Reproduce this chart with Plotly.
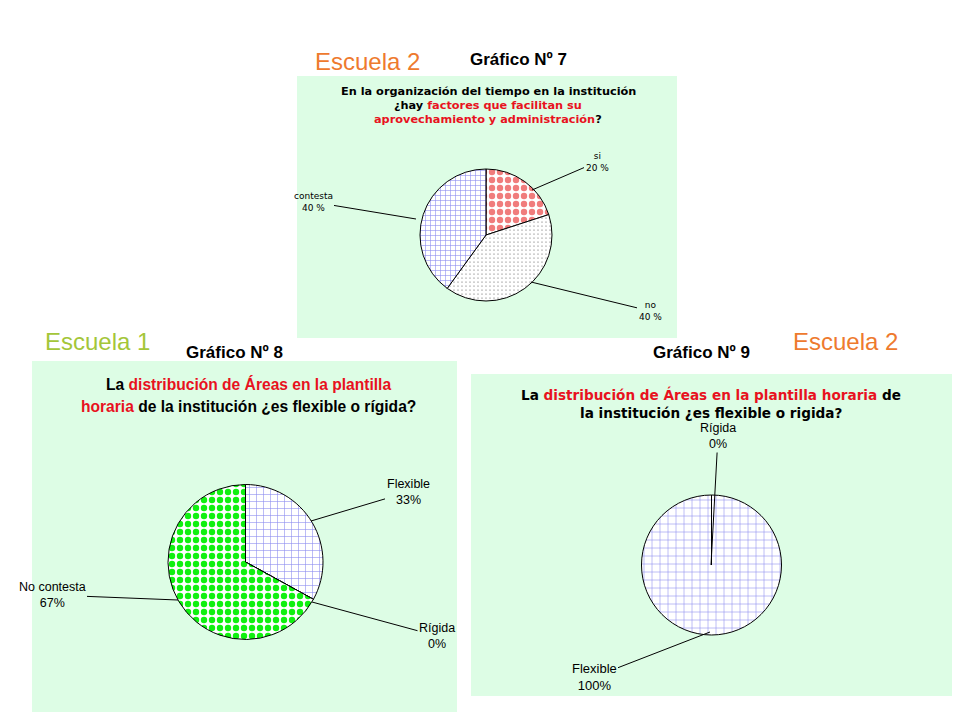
import plotly.graph_objects as go

# the page adds an 8px body margin, so the figure is a bit smaller than the window
W, H = 944, 704
OFF = 8

# --- data ---
G7_LABELS = ["si", "no", "contesta"]
G7_VALUES = [20, 40, 40]
G7_PCT_TEXT = ["20 %", "40 %", "40 %"]

G8_LABELS = ["Flexible", "Rígida", "No contesta"]
G8_VALUES = [33, 0, 67]
G8_PCT_TEXT = ["33%", "0%", "67%"]

G9_LABELS = ["Flexible", "Rígida"]
G9_VALUES = [100, 0]
G9_PCT_TEXT = ["100%", "0%"]

PANEL = "#DDFDE5"
ORANGE = "#EE7A2E"
LIME = "#A4C639"
RED = "#E8121E"
# fill styles per slice kind: (shape, colour, size, solidity)
GRID_7 = ("+", "#8C8CF0", 5, 0.22)
GRID_8 = ("+", "#8C8CF0", 7, 0.16)
GRID_9 = ("+", "#8C8CF0", 8, 0.14)
RED_DOTS = (".", "#F07C7C", 8, 0.5)
FINE_DOTS = (".", "#555555", 4, 0.07)
GREEN_DOTS = (".", "#10F010", 8, 0.5)


def pattern(styles):
    return dict(shape=[s[0] for s in styles], fgcolor=[s[1] for s in styles],
                bgcolor=["white"] * len(styles), size=[s[2] for s in styles],
                solidity=[s[3] for s in styles], fillmode="replace")


def fx(x):
    return (x - OFF) / W


def fy(y):
    return 1 - (y - OFF) / H


def dom(cx, cy, d):
    return dict(x=[fx(cx - d / 2), fx(cx + d / 2)], y=[fy(cy + d / 2), fy(cy - d / 2)])


fig = go.Figure()

fig.add_trace(go.Pie(
    labels=G7_LABELS, values=G7_VALUES, sort=False, direction="clockwise",
    rotation=0, textinfo="none", hoverinfo="label+percent", showlegend=False,
    marker=dict(colors=["white"] * 3, line=dict(color="black", width=1),
                pattern=pattern([RED_DOTS, FINE_DOTS, GRID_7])),
    domain=dom(486, 235, 132),
))

fig.add_trace(go.Pie(
    labels=G8_LABELS, values=G8_VALUES, sort=False, direction="clockwise",
    rotation=0, textinfo="none", hoverinfo="label+percent", showlegend=False,
    marker=dict(colors=["white"] * 3, line=dict(color="black", width=1),
                pattern=pattern([GRID_8, GRID_8, GREEN_DOTS])),
    domain=dom(245.5, 562, 155),
))

fig.add_trace(go.Pie(
    labels=G9_LABELS, values=G9_VALUES, sort=False, direction="clockwise",
    rotation=0, textinfo="none", hoverinfo="label+percent", showlegend=False,
    marker=dict(colors=["white"] * 2, line=dict(color="black", width=1),
                pattern=pattern([GRID_9, GRID_9])),
    domain=dom(711.5, 565, 140),
))

# panels behind the pies
shapes = []
for x0, y0, x1, y1 in [(297, 76, 677, 338), (32, 361, 457, 714), (471, 374, 952, 696)]:
    shapes.append(dict(type="rect", xref="paper", yref="paper", layer="below",
                       x0=fx(x0), x1=fx(x1), y0=fy(y1), y1=fy(y0),
                       fillcolor=PANEL, line=dict(width=0)))

ann = []


def text(x, y, s, size, color="black", bold=False, family="Arial"):
    if bold:
        s = "<b>" + s + "</b>"
    ann.append(dict(x=fx(x), y=fy(y), xref="paper", yref="paper", text=s,
                    showarrow=False, xanchor="center", yanchor="middle",
                    font=dict(size=size, color=color, family=family)))


def label(tx, ty, tipx, tipy, s, size, family="Arial"):
    # label with a plain leader line to the pie edge
    ann.append(dict(x=fx(tipx), y=fy(tipy), xref="paper", yref="paper",
                    ax=tx - tipx, ay=ty - tipy, text=s, showarrow=True,
                    arrowhead=0, arrowwidth=1, arrowcolor="black", standoff=0,
                    align="center", font=dict(size=size, color="black", family=family)))


def red(s):
    return "<span style='color:%s'>%s</span>" % (RED, s)


# headings on the slide
text(367, 62, "Escuela 2", 24, ORANGE)
text(518, 60, "Gráfico Nº 7", 17, bold=True)
text(97, 342, "Escuela 1", 24, LIME)
text(234, 352, "Gráfico Nº 8", 17, bold=True)
text(845, 342, "Escuela 2", 24, ORANGE)
text(701, 352, "Gráfico Nº 9", 17, bold=True)

# chart titles
text(488, 91, "En la organización del tiempo en la institución", 11.3, bold=True, family="DejaVu Sans")
text(488, 106, "¿hay " + red("factores que facilitan su"), 11.3, bold=True, family="DejaVu Sans")
text(488, 120, red("aprovechamiento y administración") + "?", 11.3, bold=True, family="DejaVu Sans")

text(248, 384, "La " + red("distribución de Áreas en la plantilla"), 15.6, bold=True)
text(248, 406, red("horaria") + " de la institución ¿es flexible o rígida?", 15.6, bold=True)

text(711, 394, "La " + red("distribución de Áreas en la plantilla horaria") + " de", 13.6, bold=True, family="DejaVu Sans")
text(711, 413, "la institución ¿es flexible o rigida?", 13.6, bold=True, family="DejaVu Sans")

# slice labels
label(597, 162, 532, 190, G7_LABELS[0] + "<br>" + G7_PCT_TEXT[0], 9, "DejaVu Sans")
label(650, 311, 531, 282, G7_LABELS[1] + "<br>" + G7_PCT_TEXT[1], 9, "DejaVu Sans")
label(313, 202, 416, 219, G7_LABELS[2] + "<br>" + G7_PCT_TEXT[2], 9, "DejaVu Sans")

label(408, 492, 311, 521, G8_LABELS[0] + "<br>" + G8_PCT_TEXT[0], 12.5)
label(437, 636, 312, 602, G8_LABELS[1] + "<br>" + G8_PCT_TEXT[1], 12.5)
label(52, 595, 178, 600, G8_LABELS[2] + "<br>" + G8_PCT_TEXT[2], 12.5)

label(594, 677, 710, 632, G9_LABELS[0] + "<br>" + G9_PCT_TEXT[0], 13)
label(718, 436, 711, 565, G9_LABELS[1] + "<br>" + G9_PCT_TEXT[1], 12.5)

fig.update_layout(
    width=W, height=H, margin=dict(l=0, r=0, t=0, b=0),
    paper_bgcolor="white", plot_bgcolor="white",
    shapes=shapes, annotations=ann, font=dict(family="Arial"),
)

fig.write_html("out.html")
